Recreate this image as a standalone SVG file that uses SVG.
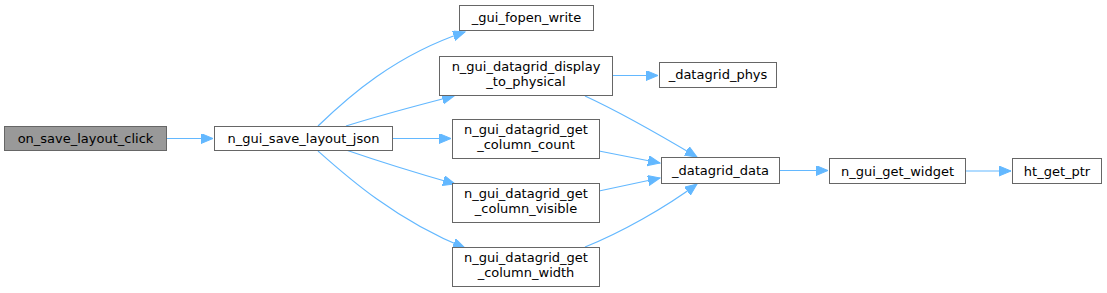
<svg xmlns="http://www.w3.org/2000/svg" width="1107" height="293" viewBox="0 0 1107 293">
<style>
.n rect{fill:#ffffff;stroke:#666666;stroke-width:1}
.n.root rect{fill:#999999}
.n text{font-family:"DejaVu Sans",sans-serif;font-size:13px;text-anchor:middle;fill:#000000}
#edges path{fill:none;stroke:#63b8ff;stroke-width:1.2;marker-end:url(#ah)}
</style>
<defs>
<marker id="ah" markerUnits="userSpaceOnUse" markerWidth="14" markerHeight="12" refX="12" refY="5" orient="auto">
<path d="M0,0 L12,5 L0,10 z" fill="#63b8ff" stroke="#63b8ff" stroke-width="1"/>
</marker>
</defs>
<rect width="1107" height="293" fill="#ffffff"/>
<g id="edges">
<path d="M167,138.5 L213,138.5"/>
<path d="M318,126 C348,97 395,55 465,32"/>
<path d="M346,126 C375,117 415,106 454,96"/>
<path d="M392,138.5 L451,138.5"/>
<path d="M346,150 C375,160 420,174 455,184"/>
<path d="M318,151 C345,175 395,220 465,248"/>
<path d="M613,75.5 L658,75.5"/>
<path d="M585,96 C620,112 665,138 697,157"/>
<path d="M599,151 L660,163"/>
<path d="M599,191 L660,178"/>
<path d="M585,247 C620,233 665,208 697,184"/>
<path d="M779,170.5 L828,170.5"/>
<path d="M966,171 L1011,171"/>
</g>
<g id="node1" class="n root"><rect x="4.5" y="126.5" width="162" height="24"/><text x="85.5" y="143">on_save_layout_click</text></g>
<g id="node2" class="n"><rect x="214.5" y="126.5" width="178" height="24"/><text x="303.5" y="143">n_gui_save_layout_json</text></g>
<g id="node3" class="n"><rect x="459.5" y="5.5" width="134" height="25"/><text x="526.5" y="22">_gui_fopen_write</text></g>
<g id="node4" class="n"><rect x="439.5" y="56.5" width="173" height="39"/><text x="526" y="71">n_gui_datagrid_display</text><text x="526" y="86">_to_physical</text></g>
<g id="node5" class="n"><rect x="659.5" y="62.5" width="117" height="25"/><text x="718" y="79">_datagrid_phys</text></g>
<g id="node6" class="n"><rect x="452.5" y="119.5" width="147" height="39"/><text x="526" y="134">n_gui_datagrid_get</text><text x="526" y="149">_column_count</text></g>
<g id="node7" class="n"><rect x="452.5" y="183.5" width="147" height="39"/><text x="526" y="198">n_gui_datagrid_get</text><text x="526" y="213">_column_visible</text></g>
<g id="node8" class="n"><rect x="452.5" y="247.5" width="147" height="39"/><text x="526" y="262">n_gui_datagrid_get</text><text x="526" y="277">_column_width</text></g>
<g id="node9" class="n"><rect x="661.5" y="157.5" width="118" height="26"/><text x="720.5" y="175">_datagrid_data</text></g>
<g id="node10" class="n"><rect x="829.5" y="158.5" width="136" height="25"/><text x="897.5" y="175.5">n_gui_get_widget</text></g>
<g id="node11" class="n"><rect x="1012.5" y="158.5" width="89" height="25"/><text x="1057" y="175.5">ht_get_ptr</text></g>
</svg>
